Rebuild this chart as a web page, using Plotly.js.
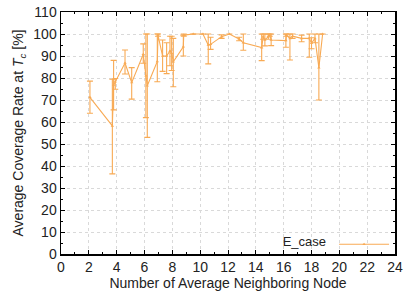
<!DOCTYPE html>
<html><head><meta charset="utf-8">
<script src="https://cdn.plot.ly/plotly-3.0.1.min.js"></script>
<style>html,body{margin:0;padding:0;background:#fff}#chart{width:406px;height:295px}</style>
</head><body><div id="chart"></div>
<script>
var xNodes = [2.08,3.69,3.78,3.9,4.6,5.08,5.91,6.1,6.2,6.92,6.97,7.3,7.59,7.83,7.95,8.07,8.79,8.82,9.5,10.2,10.58,10.75,11.54,12.1,12.8,13.1,14.42,14.53,14.65,14.9,15.0,15.1,16.16,16.2,16.45,16.64,17.29,17.84,18.0,18.25,18.53,18.8];
var coverage = [71.2,58.2,76.8,78.3,86.8,77.9,90.8,81,76.5,87.5,99.5,90,90,92.3,91.2,87.4,94.2,99.5,100,100,95,95.3,98.8,100,97.7,96,93.8,98.8,97.3,98.8,99.5,97.3,97,99.5,98,99,98,98,95.8,98,84.7,100];
var errPlus = [7.4,21.2,11.2,1.5,5.9,6.8,4.7,19,23.5,12.5,0.5,7.3,6,6.7,7.8,10.6,5.3,0.5,0,0,5,3.2,0.8,0,0.8,4,6.2,1.2,2.7,1.2,0.5,2.7,3,0.5,2,1,1.5,2,2.5,2,15.3,0];
var errMinus = [7.2,21.8,11.3,3.4,5,7.5,4.1,19,23.5,9.2,0.5,7,8,6.7,7.8,11.4,4.2,0.5,0,0,8.6,2.3,0.8,0,0.8,3.4,5.9,1.2,2.7,1.2,0.5,2.6,3,0.5,9.8,1,1.5,8.6,2.5,2,14.7,0];
var seriesName = "E_case";
var xTicks = [0,2,4,6,8,10,12,14,16,18,20,22,24];
var yTicks = [0,10,20,30,40,50,60,70,80,90,100,110];

var FONT = "Liberation Sans, Arial, sans-serif";
var col = "rgb(248,170,84)";
var trace = {
  x: xNodes, y: coverage, name: " ", type: "scatter", mode: "lines+markers",
  line: {color: col, width: 1.1},
  marker: {symbol: "triangle-up", size: 3, color: col},
  error_y: {type: "data", symmetric: false, array: errPlus, arrayminus: errMinus,
            color: col, thickness: 1.1, width: 3}
};
var axisCommon = {
  showline: true, linecolor: "#000", linewidth: 1.5, mirror: "ticks",
  ticks: "inside", ticklen: 4, tickcolor: "#000", tickwidth: 1,
  showgrid: true, gridcolor: "#d9d9d9", griddash: "dot", gridwidth: 1,
  zeroline: false,
  tickfont: {family: FONT, size: 14, color: "#222"}
};
var layout = {
  width: 406, height: 295,
  margin: {l: 61, r: 11, t: 12, b: 41, autoexpand: false},
  paper_bgcolor: "#fff", plot_bgcolor: "#fff",
  showlegend: true,
  legend: {x: 1.023, y: -0.022, xanchor: "right", yanchor: "bottom", bgcolor: "rgba(0,0,0,0)",
           itemwidth: 50,
           title: {text: seriesName, side: "left", font: {family: FONT, size: 13, color: "#222"}},
           font: {family: FONT, size: 13, color: "#222"}},
  xaxis: Object.assign({}, axisCommon, {
    range: [0, 24], tickvals: xTicks, ticktext: xTicks.map(String),
    minor: {dtick: 1, ticks: "inside", ticklen: 2, tickcolor: "#000", showgrid: false},
    title: {text: "Number of Average Neighboring Node", standoff: 3,
            font: {family: FONT, size: 14, color: "#222"}}
  }),
  yaxis: Object.assign({}, axisCommon, {
    range: [0, 110], tickvals: yTicks, ticktext: yTicks.map(String),
    minor: {dtick: 5, ticks: "inside", ticklen: 2, tickcolor: "#000", showgrid: false},
    title: {text: "Average Coverage Rate at <i>T</i><sub><i>c</i></sub> [%]", standoff: 6,
            font: {family: FONT, size: 14, color: "#222"}}
  })
};
Plotly.newPlot("chart", [trace], layout, {displayModeBar: false, staticPlot: true});
</script></body></html>
